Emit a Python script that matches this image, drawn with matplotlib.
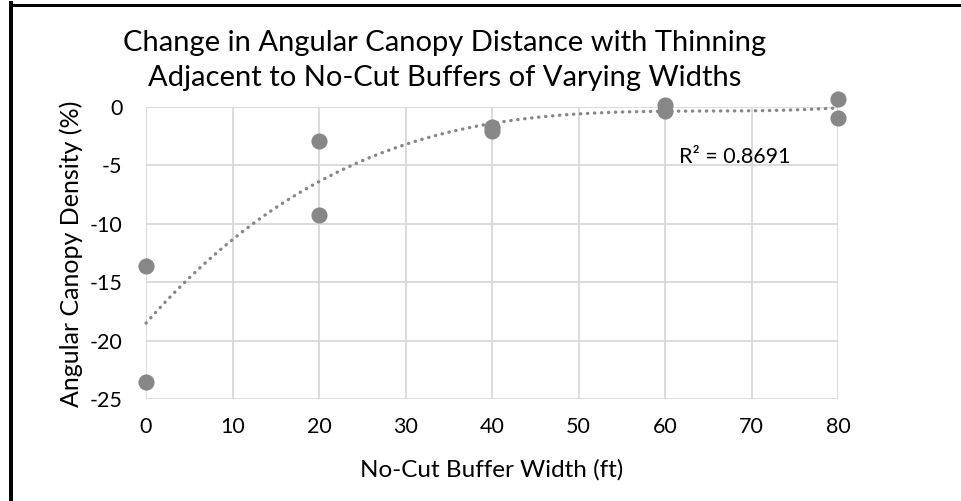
import numpy as np
import matplotlib
matplotlib.use('Agg')
import matplotlib.pyplot as plt
from matplotlib.lines import Line2D

# buffer width (ft) and change in angular canopy density (%)
buffer_ft = [0, 0, 20, 20, 40, 40, 60, 60, 80, 80]
change_pct = [-13.6, -23.55, -2.9, -9.25, -1.7, -2.05, 0.2, -0.3, 0.65, -0.95]
x_ticks = [0, 10, 20, 30, 40, 50, 60, 70, 80]
y_ticks = [0, -5, -10, -15, -20, -25]
r2_label = 'R² = 0.8691'

plt.rcParams['font.family'] = ['Lato', 'DejaVu Sans']
plt.rcParams['axes.unicode_minus'] = False
GREY = '#878787'
FS = 15.5

W, H, DPI = 961, 501, 100
fig = plt.figure(figsize=(W / DPI, H / DPI), dpi=DPI)
ax = fig.add_axes([146 / W, 1 - 399 / H, (838 - 146) / W, (399 - 107) / H])

ax.set_xlim(0, 80)
ax.set_ylim(-25, 0)
ax.set_xticks(x_ticks)
ax.set_yticks(y_ticks)
ax.grid(True, color='#d9d9d9', lw=1.3)
ax.set_axisbelow(True)
for s in ax.spines.values():
    s.set_visible(False)
ax.tick_params(length=0, labelsize=FS, colors='#000000')
ax.tick_params(axis='y', pad=17)
ax.tick_params(axis='x', pad=13)

# polynomial (order 3) trendline, as Excel draws it
coef = np.polyfit(buffer_ft, change_pct, 3)
xs = np.linspace(0, 80, 200)
ax.plot(xs, np.polyval(coef, xs), color=GREY, lw=2.4, ls=(0, (0.1, 2.0)),
        dash_capstyle='round', clip_on=False, zorder=2)
ax.scatter(buffer_ft, change_pct, s=135, color=GREY, zorder=3, clip_on=False,
           linewidths=0)

ax.text(68.1, -4.3, r2_label, fontsize=FS, ha='center', va='center')
fig.text(492 / W, 1 - 470 / H, 'No-Cut Buffer Width (ft)', fontsize=17.5,
         ha='center', va='center')
fig.text(71 / W, 1 - 254 / H, 'Angular Canopy Density (%)', fontsize=18,
         ha='center', va='center', rotation=90)
fig.text(445 / W, 1 - 43 / H,
         'Change in Angular Canopy Distance with Thinning',
         fontsize=21, ha='center', va='center')
fig.text(445 / W, 1 - 78 / H,
         'Adjacent to No-Cut Buffers of Varying Widths',
         fontsize=21, ha='center', va='center')

# partial black frame (top and left edges)
fig.add_artist(Line2D([10 / W, 1], [1 - 4.5 / H, 1 - 4.5 / H], color='black',
                      lw=3 * 72 / DPI, transform=fig.transFigure))
fig.add_artist(Line2D([10.5 / W, 10.5 / W], [0, 1 - 3 / H], color='black',
                      lw=4 * 72 / DPI, transform=fig.transFigure))

fig.savefig('out.png', dpi=DPI)
